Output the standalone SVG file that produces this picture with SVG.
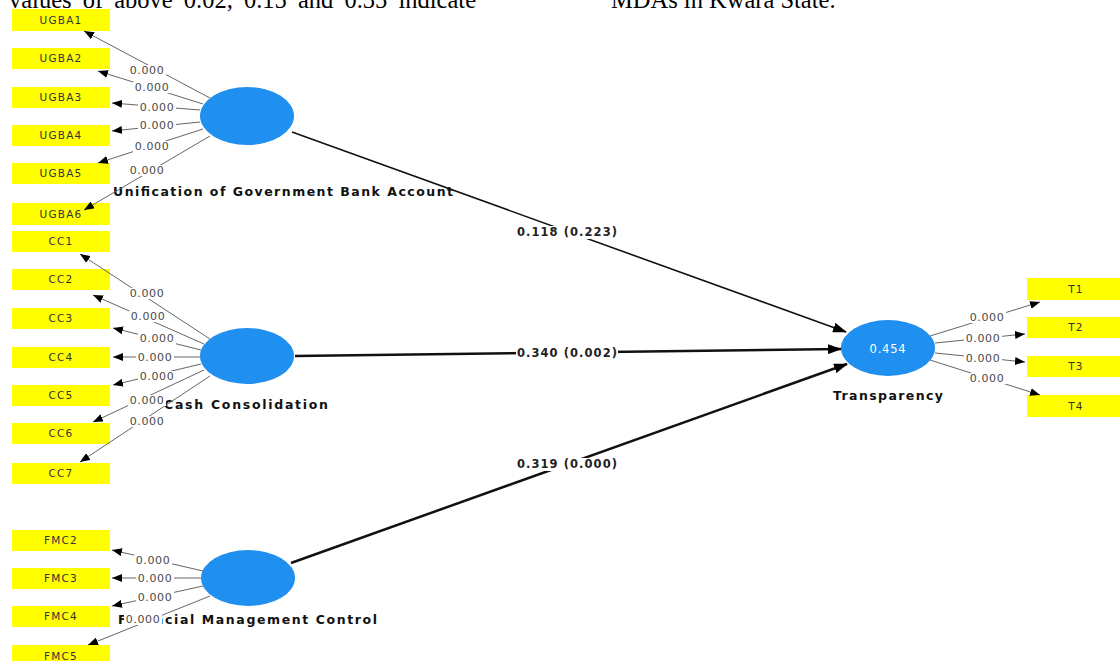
<svg xmlns="http://www.w3.org/2000/svg" width="1120" height="661" viewBox="0 0 1120 661">
<style>
.ind{fill:#ffff00}
.it{font-family:"DejaVu Sans",sans-serif;font-size:10.5px;fill:#333;letter-spacing:1.2px;text-anchor:middle;dominant-baseline:central}
.lv{font-family:"DejaVu Sans",sans-serif;font-size:11px;fill:#4a4a4a;letter-spacing:0.6px;text-anchor:middle;dominant-baseline:central}
.lvb{fill:#fff}
.ld{stroke:#666;stroke-width:1;fill:none;marker-end:url(#a1)}
.st{stroke:#111;fill:none}
.pv{font-family:"DejaVu Sans",sans-serif;font-size:11.5px;font-weight:bold;fill:#222;text-anchor:middle;dominant-baseline:central}
.nm{font-family:"DejaVu Sans",sans-serif;font-size:12.5px;font-weight:bold;fill:#111}
.lat{fill:#1f8ff0}
.top{font-family:"Liberation Serif",serif;font-size:24.5px;fill:#000}
</style>
<defs>
<marker id="a1" markerUnits="userSpaceOnUse" markerWidth="10" markerHeight="8" refX="10" refY="4" orient="auto"><path d="M0,0 L10,4 L0,8 z" fill="#000"/></marker>
<marker id="a2" markerUnits="userSpaceOnUse" markerWidth="14" markerHeight="10" refX="13" refY="5" orient="auto"><path d="M0,0 L14,5 L0,10 z" fill="#000"/></marker>
</defs>
<rect width="1120" height="661" fill="#fff"/>
<text class="top" x="9" y="8" word-spacing="5">values of above 0.02, 0.15 and 0.35 indicate</text>
<text class="top" x="611" y="8">MDAs in Kwara State.</text>

<g id="nodes">
<g id="UGBA1"><rect class="ind" x="12" y="9" width="98" height="22"/><text class="it" x="61" y="20">UGBA1</text></g>
<g id="UGBA2"><rect class="ind" x="12" y="48" width="98" height="21"/><text class="it" x="61" y="58">UGBA2</text></g>
<g id="UGBA3"><rect class="ind" x="12" y="87" width="98" height="21"/><text class="it" x="61" y="97">UGBA3</text></g>
<g id="UGBA4"><rect class="ind" x="12" y="125" width="98" height="21"/><text class="it" x="61" y="135">UGBA4</text></g>
<g id="UGBA5"><rect class="ind" x="12" y="163" width="98" height="21"/><text class="it" x="61" y="173">UGBA5</text></g>
<g id="UGBA6"><rect class="ind" x="12" y="203" width="98" height="22"/><text class="it" x="61" y="214">UGBA6</text></g>
<g id="CC1"><rect class="ind" x="12" y="231" width="98" height="21"/><text class="it" x="61" y="241">CC1</text></g>
<g id="CC2"><rect class="ind" x="12" y="269" width="98" height="21"/><text class="it" x="61" y="279">CC2</text></g>
<g id="CC3"><rect class="ind" x="12" y="308" width="98" height="21"/><text class="it" x="61" y="318">CC3</text></g>
<g id="CC4"><rect class="ind" x="12" y="347" width="98" height="21"/><text class="it" x="61" y="357">CC4</text></g>
<g id="CC5"><rect class="ind" x="12" y="385" width="98" height="21"/><text class="it" x="61" y="395">CC5</text></g>
<g id="CC6"><rect class="ind" x="12" y="423" width="98" height="21"/><text class="it" x="61" y="433">CC6</text></g>
<g id="CC7"><rect class="ind" x="12" y="463" width="98" height="21"/><text class="it" x="61" y="473">CC7</text></g>
<g id="FMC2"><rect class="ind" x="12" y="530" width="98" height="21"/><text class="it" x="61" y="540">FMC2</text></g>
<g id="FMC3"><rect class="ind" x="12" y="568" width="98" height="21"/><text class="it" x="61" y="578">FMC3</text></g>
<g id="FMC4"><rect class="ind" x="12" y="606" width="98" height="21"/><text class="it" x="61" y="616">FMC4</text></g>
<g id="FMC5"><rect class="ind" x="12" y="645" width="98" height="21"/><text class="it" x="61" y="656">FMC5</text></g>
<g id="T1"><rect class="ind" x="1027" y="278" width="93" height="22"/><text class="it" x="1076" y="289">T1</text></g>
<g id="T2"><rect class="ind" x="1027" y="317" width="93" height="21"/><text class="it" x="1076" y="327">T2</text></g>
<g id="T3"><rect class="ind" x="1027" y="356" width="93" height="21"/><text class="it" x="1076" y="366">T3</text></g>
<g id="T4"><rect class="ind" x="1027" y="395" width="93" height="22"/><text class="it" x="1076" y="406">T4</text></g>

<g id="UGBA"><ellipse class="lat" cx="247" cy="116" rx="47" ry="29"/><text class="nm" x="113" y="196" textLength="340" lengthAdjust="spacing">Unification of Government Bank Account</text></g>
<g id="CC"><ellipse class="lat" cx="247" cy="356" rx="47" ry="28"/><text class="nm" x="164" y="409" textLength="164" lengthAdjust="spacing">Cash Consolidation</text></g>
<g id="FMC"><ellipse class="lat" cx="248" cy="578" rx="47" ry="28"/><text class="nm" x="118" y="624" textLength="259" lengthAdjust="spacing">Financial Management Control</text></g>
<g id="Transparency"><ellipse class="lat" cx="888" cy="348" rx="47" ry="28"/><text x="888" y="349" font-family="DejaVu Sans,sans-serif" font-size="11.5" fill="#fff" text-anchor="middle" dominant-baseline="central" letter-spacing="0.8">0.454</text><text class="nm" x="833" y="400" textLength="110" lengthAdjust="spacing">Transparency</text></g>
</g>

<g id="connectors">
<line class="ld" x1="210" y1="98" x2="84" y2="31"/>
<line class="ld" x1="203" y1="104" x2="98" y2="71"/>
<line class="ld" x1="200" y1="110" x2="112" y2="103"/>
<line class="ld" x1="200" y1="122" x2="112" y2="131"/>
<line class="ld" x1="203" y1="129" x2="98" y2="163"/>
<line class="ld" x1="210" y1="136" x2="84" y2="210"/>
<line class="ld" x1="210" y1="339" x2="80" y2="254"/>
<line class="ld" x1="204" y1="344" x2="93" y2="295"/>
<line class="ld" x1="201" y1="350" x2="113" y2="328"/>
<line class="ld" x1="200" y1="357" x2="113" y2="357"/>
<line class="ld" x1="201" y1="364" x2="113" y2="385"/>
<line class="ld" x1="204" y1="370" x2="93" y2="422"/>
<line class="ld" x1="210" y1="376" x2="80" y2="462"/>
<line class="ld" x1="203" y1="571" x2="112" y2="550"/>
<line class="ld" x1="201" y1="578" x2="112" y2="578"/>
<line class="ld" x1="203" y1="586" x2="112" y2="606"/>
<line class="ld" x1="210" y1="596" x2="88" y2="645"/>
<line class="ld" x1="930" y1="336" x2="1040" y2="302"/>
<line class="ld" x1="935" y1="343" x2="1025" y2="334"/>
<line class="ld" x1="935" y1="353" x2="1025" y2="362"/>
<line class="ld" x1="930" y1="360" x2="1040" y2="395"/>
<line class="st" x1="292" y1="132" x2="846" y2="332" stroke-width="1.6" marker-end="url(#a2)"/>
<line class="st" x1="295" y1="356" x2="841" y2="349" stroke-width="2.5" marker-end="url(#a2)"/>
<line class="st" x1="291" y1="563" x2="847" y2="364" stroke-width="2.5" marker-end="url(#a2)"/>

<g id="loading-labels">
<rect class="lvb" x="128" y="65" width="38" height="11"/><text class="lv" x="147" y="70">0.000</text>
<rect class="lvb" x="133" y="82" width="38" height="11"/><text class="lv" x="152" y="87">0.000</text>
<rect class="lvb" x="138" y="102" width="38" height="11"/><text class="lv" x="157" y="107">0.000</text>
<rect class="lvb" x="138" y="120" width="38" height="11"/><text class="lv" x="157" y="125">0.000</text>
<rect class="lvb" x="133" y="141" width="38" height="11"/><text class="lv" x="152" y="146">0.000</text>
<rect class="lvb" x="128" y="165" width="38" height="11"/><text class="lv" x="147" y="170">0.000</text>
<rect class="lvb" x="128" y="288" width="38" height="11"/><text class="lv" x="147" y="293">0.000</text>
<rect class="lvb" x="129" y="311" width="38" height="11"/><text class="lv" x="148" y="316">0.000</text>
<rect class="lvb" x="138" y="333" width="38" height="11"/><text class="lv" x="157" y="338">0.000</text>
<rect class="lvb" x="136" y="352" width="38" height="11"/><text class="lv" x="155" y="357">0.000</text>
<rect class="lvb" x="138" y="371" width="38" height="11"/><text class="lv" x="157" y="376">0.000</text>
<rect class="lvb" x="128" y="395" width="38" height="11"/><text class="lv" x="147" y="400">0.000</text>
<rect class="lvb" x="128" y="416" width="38" height="11"/><text class="lv" x="147" y="421">0.000</text>
<rect class="lvb" x="134" y="555" width="38" height="11"/><text class="lv" x="153" y="560">0.000</text>
<rect class="lvb" x="136" y="573" width="38" height="11"/><text class="lv" x="155" y="578">0.000</text>
<rect class="lvb" x="136" y="592" width="38" height="11"/><text class="lv" x="155" y="597">0.000</text>
<rect class="lvb" x="124" y="613" width="38" height="12"/><text class="lv" x="143" y="619">0.000</text>
<rect class="lvb" x="968" y="312" width="38" height="11"/><text class="lv" x="987" y="317">0.000</text>
<rect class="lvb" x="964" y="333" width="38" height="11"/><text class="lv" x="983" y="338">0.000</text>
<rect class="lvb" x="964" y="353" width="38" height="11"/><text class="lv" x="983" y="358">0.000</text>
<rect class="lvb" x="968" y="373" width="38" height="11"/><text class="lv" x="987" y="378">0.000</text>
</g>
<g id="path-labels">
<rect class="lvb" x="516" y="226" width="102" height="13"/><text class="pv" x="567" y="232" textLength="100" lengthAdjust="spacing">0.118 (0.223)</text>
<rect class="lvb" x="516" y="347" width="102" height="13"/><text class="pv" x="567" y="353" textLength="100" lengthAdjust="spacing">0.340 (0.002)</text>
<rect class="lvb" x="516" y="458" width="102" height="13"/><text class="pv" x="567" y="464" textLength="100" lengthAdjust="spacing">0.319 (0.000)</text>
</g>
</g>
</svg>
